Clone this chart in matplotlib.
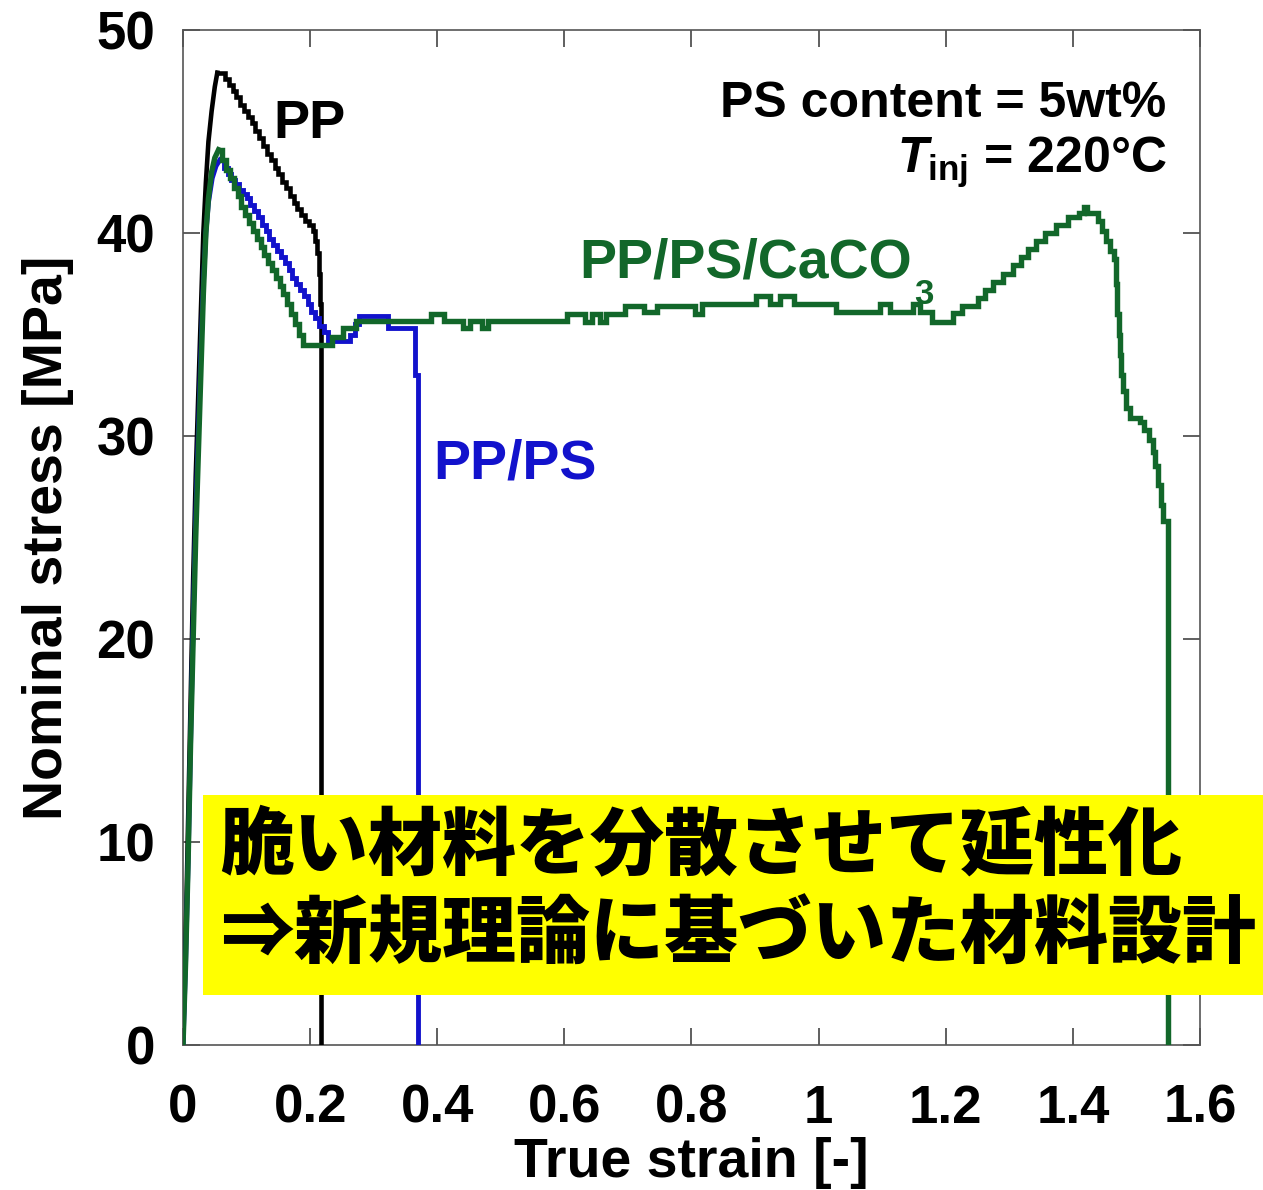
import numpy as np
import matplotlib
matplotlib.use("Agg")
import matplotlib.pyplot as plt
from matplotlib.patches import Rectangle

# Font setup: Arial-like bold text, CJK fallback for the Japanese note
plt.rcParams['font.family'] = ['Liberation Sans', 'Noto Sans CJK JP', 'DejaVu Sans']
plt.rcParams['font.weight'] = 'bold'
plt.rcParams['axes.labelweight'] = 'bold'
plt.rcParams['mathtext.fontset'] = 'custom'
plt.rcParams['mathtext.rm'] = 'Liberation Sans:bold'
plt.rcParams['mathtext.it'] = 'Liberation Sans:bold:italic'
plt.rcParams['mathtext.bf'] = 'Liberation Sans:bold'

#%% Stress-strain data (true strain [-], nominal stress [MPa])
pp_strain = [0, 0.004, 0.008, 0.012, 0.016, 0.020, 0.024, 0.028, 0.032, 0.036, 0.040,
             0.045, 0.050, 0.054, 0.066, 0.072, 0.078, 0.084, 0.090, 0.096, 0.102,
             0.108, 0.114, 0.120, 0.126, 0.132, 0.138, 0.144, 0.150, 0.156, 0.162,
             0.168, 0.174, 0.180, 0.186, 0.192, 0.198, 0.204, 0.208, 0.211, 0.214,
             0.216, 0.217]
pp_stress = [0, 5, 11, 17, 23, 28, 32, 36, 40, 42.5, 44.5,
             46.0, 47.2, 47.9, 47.6, 47.3, 47.0, 46.7, 46.3, 46.0, 45.7,
             45.4, 45.0, 44.7, 44.3, 43.9, 43.6, 43.2, 42.9, 42.5, 42.2,
             41.8, 41.5, 41.2, 40.9, 40.6, 40.4, 40.1, 39.6, 39.0, 38.0,
             36.5, 0]
pp_peak = 13

ps_strain = [0, 0.004, 0.008, 0.012, 0.016, 0.020, 0.024, 0.028, 0.032, 0.036, 0.040,
             0.046, 0.052, 0.058, 0.064, 0.070, 0.076, 0.082, 0.088, 0.094, 0.100,
             0.106, 0.112, 0.118, 0.124, 0.130, 0.136, 0.142, 0.148, 0.154, 0.160,
             0.166, 0.172, 0.178, 0.184, 0.190, 0.196, 0.202, 0.208, 0.214, 0.222,
             0.228, 0.263, 0.270, 0.277, 0.323, 0.365, 0.369]
ps_stress = [0, 4, 9, 15, 21, 26, 30, 34, 37.5, 40, 41.5,
             42.7, 43.3, 43.6, 43.2, 42.9, 42.6, 42.4, 42.1, 41.9, 41.7,
             41.4, 41.1, 40.8, 40.4, 40.1, 39.7, 39.4, 39.1, 38.8, 38.5,
             38.2, 37.8, 37.5, 37.2, 36.9, 36.5, 36.1, 35.8, 35.4, 35.1,
             34.7, 35.0, 35.5, 35.9, 35.3, 33.0, 0]
ps_peak = 13

caco3_strain = [0, 0.004, 0.008, 0.012, 0.016, 0.020, 0.024, 0.028, 0.032, 0.036, 0.040,
                0.045, 0.050, 0.056, 0.062, 0.068, 0.074, 0.080, 0.086, 0.092, 0.098,
                0.104, 0.110, 0.116, 0.122, 0.128, 0.134, 0.140, 0.146, 0.152, 0.158,
                0.164, 0.170, 0.176, 0.182, 0.188, 0.234, 0.252, 0.272,
                0.390, 0.410, 0.440, 0.452, 0.470, 0.480, 0.604, 0.632, 0.643, 0.656,
                0.666, 0.695, 0.726, 0.745, 0.805, 0.816, 0.902, 0.923, 0.939, 0.962,
                1.028, 1.096, 1.112, 1.130, 1.148, 1.159, 1.179, 1.211,
                1.226, 1.250, 1.262, 1.274, 1.290, 1.306, 1.318, 1.330, 1.342, 1.356,
                1.374, 1.392, 1.410, 1.418, 1.422, 1.440, 1.446, 1.452, 1.458, 1.464,
                1.468, 1.470, 1.472, 1.474, 1.476, 1.479, 1.484, 1.490, 1.505, 1.512,
                1.520, 1.526, 1.530, 1.534, 1.538, 1.542, 1.549]
caco3_stress = [0, 4, 9, 15, 20, 25, 29, 33, 37, 40, 41.7,
                43.0, 43.7, 44.1, 43.6, 43.1, 42.7, 42.2, 41.8, 41.3, 40.9,
                40.5, 40.1, 39.7, 39.3, 38.9, 38.5, 38.2, 37.8, 37.4, 37.0,
                36.5, 36.0, 35.5, 35.0, 34.5, 34.9, 35.3, 35.65,
                36.0, 35.65, 35.3, 35.65, 35.3, 35.65, 36.0, 35.6, 36.0, 35.6,
                36.0, 36.4, 36.1, 36.4, 36.0, 36.5, 36.9, 36.5, 36.9, 36.5,
                36.1, 36.5, 36.1, 36.1, 36.5, 36.1, 35.6, 36.05,
                36.4, 36.8, 37.2, 37.6, 38.0, 38.4, 38.8, 39.2, 39.6, 40.0,
                40.4, 40.8, 41.0, 41.3, 41.0, 40.6, 40.1, 39.6, 39.1, 38.7,
                37.5, 36.0, 35.0, 34.0, 33.0, 32.2, 31.4, 30.9, 30.7, 30.3,
                29.8, 29.2, 28.5, 27.6, 26.6, 25.8, 0]
caco3_peak = 13

x_ticks = [0, 0.2, 0.4, 0.6, 0.8, 1.0, 1.2, 1.4, 1.6]
x_tick_labels = ['0', '0.2', '0.4', '0.6', '0.8', '1', '1.2', '1.4', '1.6']
y_ticks = [0, 10, 20, 30, 40, 50]

note_lines = ['脆い材料を分散させて延性化', '⇒新規理論に基づいた材料設計']

c_pp = '#000000'
c_ps = '#1212CC'
c_caco3 = '#12672A'


def plot_curve(ax, strain, stress, peak, color, lw, z):
    # elastic rise drawn as a plain line, post-yield part as recorded steps
    ax.plot(strain[:peak + 1], stress[:peak + 1], color=color, lw=lw, zorder=z,
            solid_joinstyle='miter')
    ax.plot(strain[peak:], stress[peak:], color=color, lw=lw, zorder=z,
            drawstyle='steps-post', solid_joinstyle='miter')


#%% Figure
fig = plt.figure(figsize=(12.63, 11.90), dpi=100)
ax = fig.add_axes([0.1449, 0.1218, 0.8052, 0.8530])

plot_curve(ax, pp_strain, pp_stress, pp_peak, c_pp, 3.3, 3)
plot_curve(ax, ps_strain, ps_stress, ps_peak, c_ps, 3.5, 4)
plot_curve(ax, caco3_strain, caco3_stress, caco3_peak, c_caco3, 3.9, 5)

ax.set_xlim(0, 1.6)
ax.set_ylim(0, 50)
ax.set_xticks(x_ticks)
ax.set_xticklabels(x_tick_labels)
ax.set_yticks(y_ticks)
ax.tick_params(direction='in', length=12, width=1.2, color='#444444',
               top=True, right=True, labelsize=38)
ax.tick_params(axis='x', pad=28)
ax.tick_params(axis='y', pad=20)
for s in ax.spines.values():
    s.set_linewidth(1.2)
    s.set_color('#555555')

ax.set_xlabel('True strain [-]', fontsize=40, labelpad=2)
ax.set_ylabel('Nominal stress [MPa]', fontsize=40, labelpad=16)

# curve labels
ax.text(0.1415, 44.7, 'PP', color=c_pp, fontsize=39, va='baseline')
ax.text(0.393, 27.9, 'PP/PS', color=c_ps, fontsize=40, va='baseline')
t = ax.text(0.624, 37.8, 'PP/PS/CaCO', color=c_caco3, fontsize=40, va='baseline')
ax.annotate('3', xy=(1, 0), xycoords=t, xytext=(1, -10), textcoords='offset points',
            color=c_caco3, fontsize=25, va='baseline', ha='left')

# test conditions
ax.text(1.547, 45.7, 'PS content = 5wt%', fontsize=36, ha='right', va='baseline')
ax.text(1.547, 42.95, r'$T_{\mathrm{inj}}$ = 220°C', fontsize=36, ha='right', va='baseline')

# highlighted note box
fig.add_artist(Rectangle((203 / 1263, 195 / 1190), 1060 / 1263, 200 / 1190,
                         transform=fig.transFigure, facecolor='#FFFF00',
                         edgecolor='none', zorder=10))
fig.text(220 / 1263, 1 - 846 / 1190, note_lines[0], fontsize=53.3, weight='heavy',
         family=['Noto Sans CJK JP', 'DejaVu Sans'], va='center', ha='left', zorder=11)
fig.text(220 / 1263, 1 - 936 / 1190, note_lines[1], fontsize=53.3, weight='heavy',
         family=['Noto Sans CJK JP', 'DejaVu Sans'], va='center', ha='left', zorder=11)

fig.savefig('out.png', dpi=100)
